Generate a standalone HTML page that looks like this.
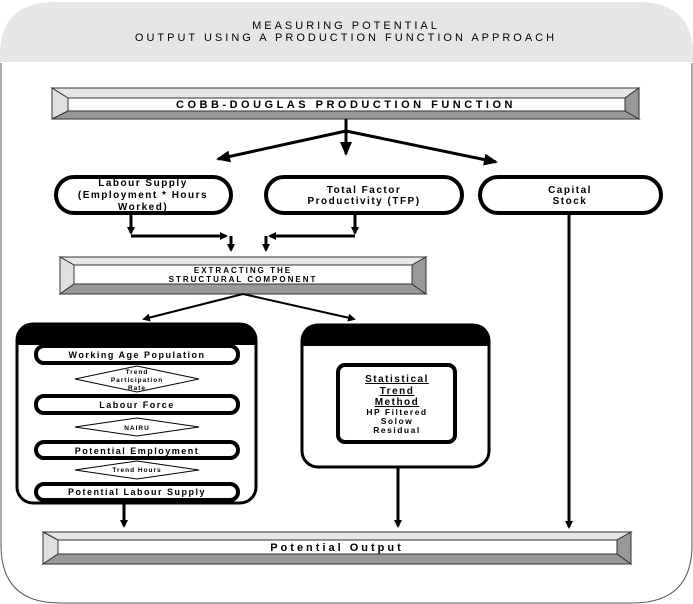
<!DOCTYPE html>
<html><head><meta charset="utf-8"><style>
html,body{margin:0;padding:0;background:#fff;}
svg{display:block;font-family:"Liberation Sans",Arial,sans-serif;font-weight:bold;}
</style></head><body>
<svg width="693" height="604" viewBox="0 0 693 604" xmlns="http://www.w3.org/2000/svg">
<defs>
<marker id="ah" markerWidth="8" markerHeight="8" refX="6" refY="4" orient="auto" markerUnits="userSpaceOnUse"><path d="M0,0 L8,4 L0,8 Z" fill="#000"/></marker>
<marker id="ah2" markerWidth="14" markerHeight="12" refX="12" refY="6" orient="auto" markerUnits="userSpaceOnUse"><path d="M0,0 L14,6 L0,12 Z" fill="#000"/></marker>
</defs>
<rect width="693" height="604" fill="#fff"/>
<!-- header -->
<path d="M0,62 L0,55 Q0,2 55,2 L638,2 Q693,2 693,55 L693,62 Z" fill="#e6e6e6"/>
<text x="346" y="29" font-size="11" font-weight="normal" text-anchor="middle" letter-spacing="3">MEASURING POTENTIAL</text>
<text x="346" y="41" font-size="11" font-weight="normal" text-anchor="middle" letter-spacing="3">OUTPUT USING A PRODUCTION FUNCTION APPROACH</text>
<!-- outer frame -->
<path d="M1,63 L1,545 Q1,603 60,603 L632,603 Q692,603 692,545 L692,63" fill="none" stroke="#555" stroke-width="1"/>

<!-- bevel: cobb -->
<g stroke="#333" stroke-width="1">
<polygon points="52,88 639,88 625,98 68,98" fill="#e6e6e6"/>
<polygon points="52,88 68,98 68,111 52,119" fill="#e0e0e0"/>
<polygon points="52,119 68,111 625,111 639,119" fill="#999"/>
<polygon points="639,88 639,119 625,111 625,98" fill="#999"/>
<rect x="68" y="98" width="557" height="13" fill="#fff"/>
</g>
<text x="346" y="108" font-size="11" text-anchor="middle" letter-spacing="3.5">COBB-DOUGLAS PRODUCTION FUNCTION</text>

<!-- junction arrows -->
<g stroke="#000" stroke-width="3" fill="none">
<line x1="346" y1="119" x2="346" y2="131"/>
<line x1="346" y1="131" x2="346" y2="154" marker-end="url(#ah2)"/>
<line x1="346" y1="131" x2="218" y2="159" marker-end="url(#ah2)"/>
<line x1="346" y1="131" x2="496" y2="162" marker-end="url(#ah2)"/>
</g>

<!-- ovals -->
<g fill="#fff" stroke="#000" stroke-width="4">
<rect x="56" y="177" width="175" height="36" rx="18"/>
<rect x="266" y="177" width="196" height="36" rx="18"/>
<rect x="480" y="177" width="181" height="36" rx="18"/>
</g>
<g font-size="10" text-anchor="middle" letter-spacing="1.5">
<text x="143" y="186">Labour Supply</text>
<text x="143" y="198">(Employment * Hours</text>
<text x="143" y="210">Worked)</text>
<text x="364" y="193">Total Factor</text>
<text x="364" y="204">Productivity (TFP)</text>
<text x="570" y="193">Capital</text>
<text x="570" y="204">Stock</text>
</g>

<!-- merge arrows -->
<g stroke="#000" stroke-width="3" fill="none">
<line x1="131" y1="214" x2="131" y2="233" marker-end="url(#ah)"/>
<line x1="131" y1="236" x2="226" y2="236" marker-end="url(#ah)"/>
<line x1="231" y1="236" x2="231" y2="250" marker-end="url(#ah)"/>
<line x1="355" y1="214" x2="355" y2="233" marker-end="url(#ah)"/>
<line x1="355" y1="236" x2="270" y2="236" marker-end="url(#ah)"/>
<line x1="266" y1="236" x2="266" y2="250" marker-end="url(#ah)"/>
<line x1="569" y1="214" x2="569" y2="527" marker-end="url(#ah)"/>
</g>

<!-- bevel: extracting -->
<g stroke="#333" stroke-width="1">
<polygon points="60,257 426,257 412,265 74,265" fill="#e6e6e6"/>
<polygon points="60,257 74,265 74,284 60,294" fill="#e0e0e0"/>
<polygon points="60,294 74,284 412,284 426,294" fill="#999"/>
<polygon points="426,257 426,294 412,284 412,265" fill="#999"/>
<rect x="74" y="265" width="338" height="19" fill="#fff"/>
</g>
<text x="243" y="273" font-size="8" text-anchor="middle" letter-spacing="2">EXTRACTING THE</text>
<text x="243" y="282" font-size="8" text-anchor="middle" letter-spacing="2">STRUCTURAL COMPONENT</text>

<g stroke="#000" stroke-width="2" fill="none">
<line x1="243" y1="294" x2="144" y2="319" marker-end="url(#ah)"/>
<line x1="243" y1="294" x2="354" y2="319" marker-end="url(#ah)"/>
</g>

<!-- left box -->
<rect x="17" y="324" width="239" height="179" rx="16" fill="#fff" stroke="#000" stroke-width="3"/>
<path d="M17,345 L17,340 Q17,323 33,323 L240,323 Q256,323 256,340 L256,345 Z" fill="#000"/>
<g fill="#fff" stroke="#000" stroke-width="4">
<rect x="36" y="346" width="202" height="17" rx="8"/>
<rect x="36" y="396" width="202" height="17" rx="8"/>
<rect x="36" y="442" width="202" height="16" rx="8"/>
<rect x="36" y="484" width="202" height="16" rx="8"/>
</g>
<g fill="#fff" stroke="#000" stroke-width="1">
<polygon points="75,379 137,366 199,379 137,392"/>
<polygon points="75,427 137,418 199,427 137,436"/>
<polygon points="75,470 137,461 199,470 137,479"/>
</g>
<g font-size="9" text-anchor="middle" letter-spacing="1.5">
<text x="137" y="358">Working Age Population</text>
<text x="137" y="408">Labour Force</text>
<text x="137" y="454">Potential Employment</text>
<text x="137" y="495">Potential Labour Supply</text>
</g>
<g font-size="6.5" text-anchor="middle" letter-spacing="1">
<text x="137" y="374">Trend</text>
<text x="137" y="382">Participation</text>
<text x="137" y="390">Rate</text>
<text x="137" y="430">NAIRU</text>
<text x="137" y="472">Trend Hours</text>
</g>

<!-- right box -->
<rect x="302" y="325" width="187" height="142" rx="16" fill="#fff" stroke="#000" stroke-width="3"/>
<path d="M302,346 L302,340 Q302,324 318,324 L473,324 Q489,324 489,340 L489,346 Z" fill="#000"/>
<rect x="338" y="365" width="117" height="77" rx="7" fill="#fff" stroke="#000" stroke-width="4"/>
<g font-size="10" text-anchor="middle" letter-spacing="1.5" text-decoration="underline">
<text x="397" y="382">Statistical</text>
<text x="397" y="394">Trend</text>
<text x="397" y="405">Method</text>
</g>
<g font-size="8.5" text-anchor="middle" letter-spacing="1.5">
<text x="397" y="415">HP Filtered</text>
<text x="397" y="424">Solow</text>
<text x="397" y="433">Residual</text>
</g>

<g stroke="#000" stroke-width="3" fill="none">
<line x1="124" y1="504" x2="124" y2="526" marker-end="url(#ah)"/>
<line x1="398" y1="468" x2="398" y2="526" marker-end="url(#ah)"/>
</g>

<!-- bevel: potential output -->
<g stroke="#333" stroke-width="1">
<polygon points="43,532 631,532 617,540 58,540" fill="#e6e6e6"/>
<polygon points="43,532 58,540 58,554 43,564" fill="#e0e0e0"/>
<polygon points="43,564 58,554 617,554 631,564" fill="#999"/>
<polygon points="631,532 631,564 617,554 617,540" fill="#999"/>
<rect x="58" y="540" width="559" height="14" fill="#fff"/>
</g>
<text x="337" y="551" font-size="11" text-anchor="middle" letter-spacing="3">Potential Output</text>
</svg>
</body></html>
